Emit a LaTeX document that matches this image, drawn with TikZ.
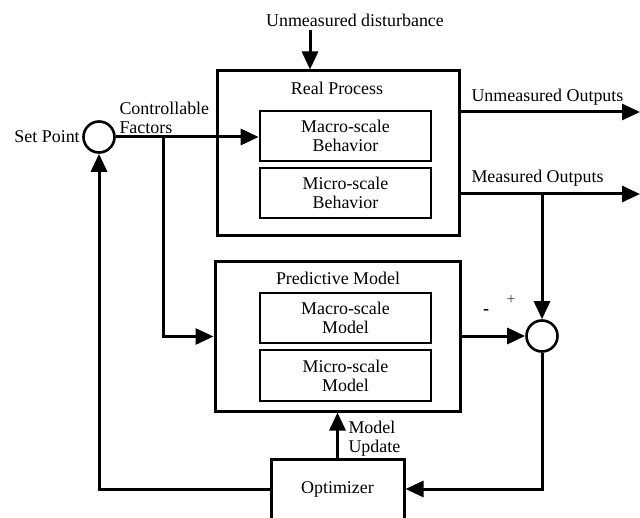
\documentclass[tikz,border=0pt]{standalone}
\usepackage{fontspec}
\setmainfont{Liberation Serif}
\usetikzlibrary{arrows.meta,positioning}

\begin{document}
\begin{tikzpicture}[x=1bp,y=-1bp,font=\fontsize{18}{19}\selectfont,line width=3bp,
  >={Triangle[length=18bp,width=16bp]},
  outer/.style={draw,minimum width=#1,inner sep=0pt},
  sub/.style={draw,line width=2.6bp,align=center,minimum width=171bp,minimum height=50bp,inner sep=0pt},
  junction/.style={circle,draw,line width=2.6bp,minimum size=31bp,inner sep=0pt}]
\useasboundingbox (0,0) rectangle (640,518);
\clip (0,0) rectangle (640,518);
% process and its parts
\node[outer=242bp,minimum height=164bp] (real) at (338,153) {};
\node (realtitle) at (337,88) {Real Process};
\node[sub] (macrob) at (345.5,136) {Macro-scale\\Behavior};
\node[sub] (microb) at (345.5,193) {Micro-scale\\Behavior};
% model and its parts
\node[outer=245bp,minimum height=149bp] (pred) at (337.5,336.5) {};
\node (predtitle) at (338,278) {Predictive Model};
\node[sub] (macrom) at (345.5,318) {Macro-scale\\Model};
\node[sub,minimum height=51bp] (microm) at (345.5,375.5) {Micro-scale\\Model};
\node[outer=133bp,minimum height=60bp] (opt) at (337.5,489) {Optimizer};
% junctions
\node[junction] (sp) at (99,137) {};
\node[junction] (sum) at (542,336) {};
\node[anchor=east,inner sep=1bp] (splabel) at (sp.west) {Set Point};
\node[anchor=west,align=left,inner sep=0pt] (ctrl) at (118,118) {Controllable\\Factors};
\node (distlabel) at (355,20) {Unmeasured disturbance};
\node[anchor=west,inner sep=0pt] (uolabel) at (470,97) {Unmeasured Outputs};
\node[anchor=west,inner sep=0pt] (molabel) at (470,178) {Measured Outputs};
\node[inner sep=0pt,font=\fontsize{18}{18}\bfseries] (minus) at (486,312) {-};
\node[inner sep=0pt,text=black!75,font=\fontsize{16}{16}\selectfont] (plus) at (511,300) {+};
\node[anchor=west,align=left,inner sep=0pt] (updlabel) at (347,439) {Model\\Update};
\coordinate (dist) at (310,30);
\coordinate (br) at (163,137);
\coordinate (uo) at (640,112);
\coordinate (mo) at (640,194);
\coordinate (mb) at (542,194);
% connectors
\draw[->] (dist) -- (dist |- real.north);
\draw[->] (sp.east) -- (sp.east -| macrob.west);
\draw[->] (br) |- (pred.west);
\draw[->] (real.east |- uo) -- (uo);
\draw[->] (real.east |- mo) -- (mo);
\draw[->] (mb) -- (sum.north);
\draw[->] (pred.east |- sum) -- (sum.west);
\draw[->] (sum.south) |- (opt.east);
\draw[->] (opt.north) -- (pred.south);
\draw[->] (opt.west) -| (sp.south);
\end{tikzpicture}
\end{document}
